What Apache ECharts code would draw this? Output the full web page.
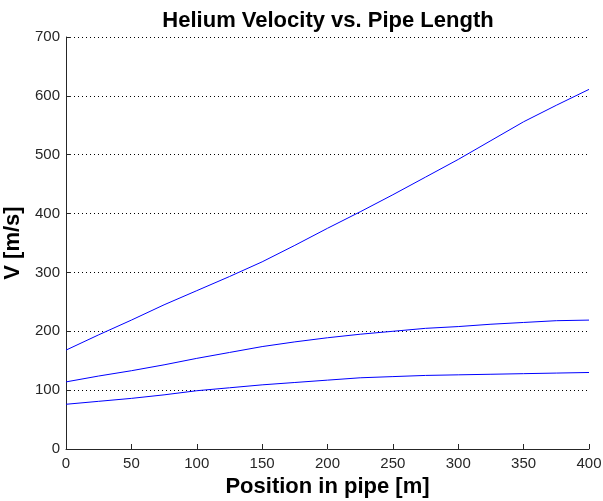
<!DOCTYPE html>
<html>
<head>
<meta charset="utf-8">
<script src="https://cdn.jsdelivr.net/npm/echarts@6/dist/echarts.min.js"></script>
<style>
  html, body { margin: 0; padding: 0; background: #fff; }
  #chart { width: 603px; height: 501px; }
</style>
</head>
<body>
<div id="chart"></div>
<script>
// Position along the pipe [m]
const position = [0, 25, 50, 75, 100, 125, 150, 175, 200, 225, 250, 275, 300, 325, 350, 375, 400];

// Helium velocity [m/s] for three inlet conditions
const velocityHigh = [168, 194, 219, 245, 269, 293, 318, 346, 375, 403, 432, 462, 492, 524, 556, 584, 611];
const velocityMid  = [114, 124, 133, 143, 154, 164, 174, 182, 189, 195, 200, 205, 208, 212, 215, 218, 219];
const velocityLow  = [76, 81, 86, 92, 99, 104, 109, 113, 117, 121, 123, 125, 126, 127, 128, 129, 130];

const xTicks = [0, 50, 100, 150, 200, 250, 300, 350, 400];
const yTicks = [0, 100, 200, 300, 400, 500, 600, 700];

const FONT = '"Liberation Sans", Arial, sans-serif';

function pairs(ys) {
  return position.map((x, i) => [x, ys[i]]);
}

function lineSeries(ys) {
  return {
    type: 'line',
    data: pairs(ys),
    showSymbol: false,
    smooth: false,
    lineStyle: { color: '#0000ff', width: 1 },
    animation: false
  };
}

const chart = echarts.init(document.getElementById('chart'), null, { renderer: 'canvas' });
chart.setOption({
  backgroundColor: '#ffffff',
  animation: false,
  title: {
    text: 'Helium Velocity vs. Pipe Length',
    left: 323, top: 5, textAlign: 'center',
    textStyle: { fontFamily: FONT, fontWeight: 'bold', fontSize: 22, color: '#000' }
  },
  grid: { left: 66, right: 14, top: 37, bottom: 52, containLabel: false, outerBoundsMode: 'none' },
  xAxis: {
    type: 'value',
    min: xTicks[0], max: xTicks[xTicks.length - 1], interval: 50,
    name: 'Position in pipe [m]',
    nameLocation: 'middle', nameGap: 27,
    nameTextStyle: { fontFamily: FONT, fontWeight: 'bold', fontSize: 22, color: '#000' },
    axisLine: { show: true, lineStyle: { color: '#262626', width: 1 } },
    axisTick: { show: true, inside: true, length: 5, lineStyle: { color: '#262626' } },
    axisLabel: { fontFamily: FONT, fontSize: 15, color: '#262626', margin: 7 },
    splitLine: { show: false }
  },
  yAxis: {
    type: 'value',
    min: yTicks[0], max: yTicks[yTicks.length - 1], interval: 100,
    name: 'V [m/s]',
    nameLocation: 'middle', nameGap: 35, nameRotate: 90,
    nameTextStyle: { fontFamily: FONT, fontWeight: 'bold', fontSize: 22, color: '#000' },
    axisLine: { show: true, lineStyle: { color: '#262626', width: 1 } },
    axisTick: { show: true, inside: true, length: 5, lineStyle: { color: '#262626' } },
    axisLabel: { fontFamily: FONT, fontSize: 15, color: '#262626', margin: 6 },
    splitLine: { show: true, lineStyle: { color: '#000', width: 1, type: [1, 3] } }
  },
  series: [lineSeries(velocityHigh), lineSeries(velocityMid), lineSeries(velocityLow)]
});
</script>
</body>
</html>
